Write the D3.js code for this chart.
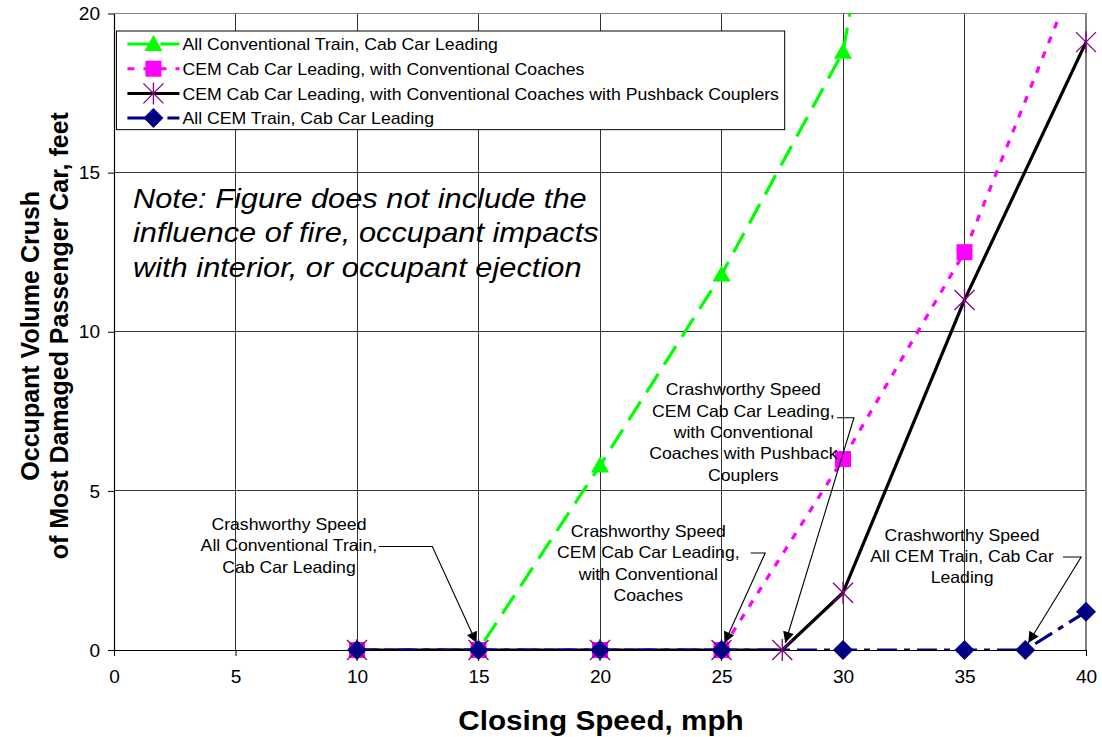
<!DOCTYPE html>
<html>
<head>
<meta charset="utf-8">
<script src="https://cdn.jsdelivr.net/npm/d3@7/dist/d3.min.js"></script>
<style>
  html, body { margin: 0; padding: 0; background: #fff; }
  svg { display: block; font-family: Arial, "Liberation Sans", sans-serif; }
</style>
</head>
<body>
<svg id="chart" width="1102" height="737"></svg>
<script>
// Closing speeds (mph) for each series
const speedsConventional = [10, 15, 20, 25, 30, 35];
const crushConventional  = [0, 0, 5.8, 11.8, 18.8, 40];

const speedsCemConvCoaches = [10, 15, 20, 25, 30, 35, 40];
const crushCemConvCoaches  = [0, 0, 0, 0, 6.0, 12.5, 22];

const speedsCemPushback = [10, 15, 20, 25, 27.5, 30, 35, 40];
const crushCemPushback  = [0, 0, 0, 0, 0, 1.8, 11.0, 19.1];

const speedsAllCem = [10, 15, 20, 25, 30, 35, 37.5, 40];
const crushAllCem  = [0, 0, 0, 0, 0, 0, 0, 1.2];

const xTicks = [0, 5, 10, 15, 20, 25, 30, 35, 40];
const yTicks = [0, 5, 10, 15, 20];

const seriesNames = [
  "All Conventional Train, Cab Car Leading",
  "CEM Cab Car Leading, with Conventional Coaches",
  "CEM Cab Car Leading, with Conventional Coaches with Pushback Couplers",
  "All CEM Train, Cab Car Leading"
];

const noteLines = [
  "Note: Figure does not include the",
  "influence of fire, occupant impacts",
  "with interior, or occupant ejection"
];

// Callouts: text block anchored in data units, elbow and arrow tip point at a crashworthy speed
const callouts = [
  { lines: ["Crashworthy Speed", "All Conventional Train,", "Cab Car Leading"],
    cx: 7.2, cy: 3.77, elbowFrom: 10.9, elbowTo: 13.1, elbowY: 3.25, tipX: 15, tipY: 0 },
  { lines: ["Crashworthy Speed", "CEM Cab Car Leading,", "with Conventional", "Coaches"],
    cx: 21.99, cy: 3.55, elbowFrom: 26.2, elbowTo: 26.8, elbowY: 3.05, tipX: 25, tipY: 0 },
  { lines: ["Crashworthy Speed", "CEM Cab Car Leading,", "with Conventional", "Coaches with Pushback", "Couplers"],
    cx: 25.9, cy: 8.0, elbowFrom: 29.75, elbowTo: 30.45, elbowY: 7.3, tipX: 27.5, tipY: 0 },
  { lines: ["Crashworthy Speed", "All CEM Train, Cab Car", "Leading"],
    cx: 34.9, cy: 3.43, elbowFrom: 39.05, elbowTo: 39.8, elbowY: 2.92, tipX: 37.5, tipY: 0 }
];

const svg = d3.select("#chart");
const plot = { left: 114, right: 1086, top: 13.5, bottom: 650 };

const x = d3.scaleLinear().domain([0, 40]).range([plot.left, plot.right]);
const y = d3.scaleLinear().domain([0, 20]).range([plot.bottom, plot.top]);

// widen glyph runs slightly (the typeface is set a touch wide)
function widen(sel, k) {
  sel.each(function () {
    const len = this.getComputedTextLength();
    d3.select(this).attr("textLength", len * k).attr("lengthAdjust", "spacingAndGlyphs");
  });
}

// clip region for the series lines
const defs = svg.append("defs");
defs.append("clipPath").attr("id", "plotClip")
  .append("rect")
  .attr("x", plot.left).attr("y", plot.top)
  .attr("width", plot.right - plot.left).attr("height", plot.bottom - plot.top);

// arrow head
defs.append("marker")
  .attr("id", "arrowHead")
  .attr("viewBox", "0 0 10 10")
  .attr("refX", 10).attr("refY", 5)
  .attr("markerWidth", 14).attr("markerHeight", 11)
  .attr("markerUnits", "userSpaceOnUse")
  .attr("orient", "auto")
  .append("path").attr("d", "M0,0 L10,5 L0,10 Z").attr("fill", "#000");

// gridlines
const grid = svg.append("g");
grid.selectAll("line.v").data(xTicks.slice(1)).join("line")
  .attr("x1", d => x(d)).attr("x2", d => x(d))
  .attr("y1", plot.top).attr("y2", plot.bottom)
  .attr("stroke", "#333").attr("stroke-width", 1).attr("shape-rendering", "crispEdges");
grid.selectAll("line.h").data(yTicks.slice(1)).join("line")
  .attr("x1", plot.left).attr("x2", plot.right)
  .attr("y1", d => y(d)).attr("y2", d => y(d))
  .attr("stroke", "#333").attr("stroke-width", 1).attr("shape-rendering", "crispEdges");
// plot border top and right
svg.append("path")
  .attr("d", `M${plot.left},${plot.top}H${plot.right}V${plot.bottom}`)
  .attr("fill", "none").attr("stroke", "#808080").attr("stroke-width", 1.2)
  .attr("shape-rendering", "crispEdges");

// axes
const xAxis = svg.append("g").attr("transform", `translate(0,${plot.bottom})`)
  .call(d3.axisBottom(x).tickValues(xTicks).tickSize(6).tickSizeOuter(0).tickPadding(14));
const yAxis = svg.append("g").attr("transform", `translate(${plot.left},0)`)
  .call(d3.axisLeft(y).tickValues(yTicks).tickSize(6).tickSizeOuter(0).tickPadding(8));
[xAxis, yAxis].forEach(g => {
  g.select(".domain").attr("stroke", "#000").attr("stroke-width", 1.2);
  g.selectAll(".tick line").attr("stroke", "#000");
  g.selectAll(".tick text").attr("font-size", 18).attr("fill", "#000")
    .attr("font-family", "Arial, 'Liberation Sans', sans-serif");
  widen(g.selectAll(".tick text"), 1.06);
});
yAxis.selectAll(".tick text").attr("dy", "0.34em");

// series definitions
const series = [
  { xs: speedsConventional, ys: crushConventional, color: "#00ff00", dash: "22,11", width: 3.2, marker: "triangle", mcolor: "#00ff00" },
  { xs: speedsCemConvCoaches, ys: crushCemConvCoaches, color: "#ff00ff", dash: "7,9", width: 3.2, marker: "square", mcolor: "#ff00ff" },
  { xs: speedsCemPushback, ys: crushCemPushback, color: "#000000", dash: null, width: 3.2, marker: "star", mcolor: "#800080" },
  { xs: speedsAllCem, ys: crushAllCem, color: "#000080", dash: "20,7,6,7", width: 3.2, marker: "diamond", mcolor: "#000080" }
];

const line = d3.line().x(d => x(d[0])).y(d => y(d[1]));

function drawMarker(g, type, color, cx, cy) {
  if (type === "triangle") {
    g.append("path").attr("d", `M${cx},${cy - 9}L${cx + 9},${cy + 7}L${cx - 9},${cy + 7}Z`).attr("fill", color);
  } else if (type === "square") {
    g.append("rect").attr("x", cx - 8).attr("y", cy - 8).attr("width", 16).attr("height", 16).attr("fill", color);
  } else if (type === "diamond") {
    g.append("path").attr("d", `M${cx},${cy - 10}L${cx + 10},${cy}L${cx},${cy + 10}L${cx - 10},${cy}Z`).attr("fill", color);
  } else if (type === "star") {
    g.append("path")
      .attr("d", `M${cx - 10},${cy - 10}L${cx + 10},${cy + 10}M${cx - 10},${cy + 10}L${cx + 10},${cy - 10}M${cx},${cy - 11}L${cx},${cy + 11}`)
      .attr("stroke", color).attr("stroke-width", 1.3).attr("fill", "none");
  }
}

const linesG = svg.append("g").attr("clip-path", "url(#plotClip)");
series.forEach(s => {
  const pts = s.xs.map((v, i) => [v, s.ys[i]]);
  linesG.append("path").datum(pts).attr("d", line)
    .attr("fill", "none").attr("stroke", s.color).attr("stroke-width", s.width)
    .attr("stroke-dasharray", s.dash).attr("stroke-linejoin", "round");
});
const markersG = svg.append("g");
series.forEach(s => {
  s.xs.forEach((v, i) => {
    if (s.ys[i] <= 20) drawMarker(markersG, s.marker, s.mcolor, x(v), y(s.ys[i]));
  });
});

// legend
const legend = svg.append("g");
const lgBox = { x: x(0.1), y: y(19.45), w: x(27.6) - x(0.1), h: y(16.35) - y(19.45) };
legend.append("rect").attr("x", lgBox.x).attr("y", lgBox.y).attr("width", lgBox.w).attr("height", lgBox.h)
  .attr("fill", "#fff").attr("stroke", "#000").attr("stroke-width", 1);
series.forEach((s, i) => {
  const ly = lgBox.y + 13 + i * 24.7;
  const lx0 = lgBox.x + 11, lx1 = lgBox.x + 63;
  legend.append("line").attr("x1", lx0).attr("x2", lx1).attr("y1", ly).attr("y2", ly)
    .attr("stroke", s.color).attr("stroke-width", 3).attr("stroke-dasharray", s.dash);
  drawMarker(legend, s.marker, s.mcolor, (lx0 + lx1) / 2, ly);
  const t = legend.append("text").attr("x", lx1 + 3).attr("y", ly).attr("dy", "0.36em")
    .attr("font-size", 17).attr("fill", "#000").text(seriesNames[i]);
  widen(t, 1.04);
});

// note
const note = svg.append("text").attr("x", x(0.78)).attr("y", y(13.9))
  .attr("font-size", 28).attr("font-style", "italic").attr("fill", "#000");
noteLines.forEach((t, i) => note.append("tspan").attr("x", x(0.78)).attr("dy", i === 0 ? 0 : 34.5).text(t));
widen(note.selectAll("tspan"), 1.1);

// callouts
callouts.forEach(c => {
  const t = svg.append("text").attr("text-anchor", "middle").attr("font-size", 16.5).attr("fill", "#000");
  c.lines.forEach((l, i) => t.append("tspan").attr("x", x(c.cx)).attr("y", y(c.cy) + i * 21.3).text(l));
  widen(t.selectAll("tspan"), 1.07);
  svg.append("path")
    .attr("d", `M${x(c.elbowFrom)},${y(c.elbowY)}H${x(c.elbowTo)}L${x(c.tipX) + (x(c.elbowTo) > x(c.tipX) ? 3 : -2)},${y(c.tipY) - 7}`)
    .attr("fill", "none").attr("stroke", "#000").attr("stroke-width", 1.1)
    .attr("marker-end", "url(#arrowHead)");
});

// axis titles
const xt = svg.append("text").attr("x", 601).attr("y", 730).attr("text-anchor", "middle")
  .attr("font-size", 27).attr("font-weight", "bold").attr("fill", "#000").text("Closing Speed, mph");
widen(xt, 1.1);
const yt = svg.append("text").attr("transform", `translate(0,${y(10) + 4}) scale(1.05,1) rotate(-90)`)
  .attr("text-anchor", "middle").attr("font-size", 25).attr("font-weight", "bold").attr("fill", "#000");
yt.append("tspan").attr("x", 0).attr("y", 37.5).text("Occupant Volume Crush");
yt.append("tspan").attr("x", 0).attr("y", 64.5).text("of Most Damaged Passenger Car, feet");
</script>
</body>
</html>
